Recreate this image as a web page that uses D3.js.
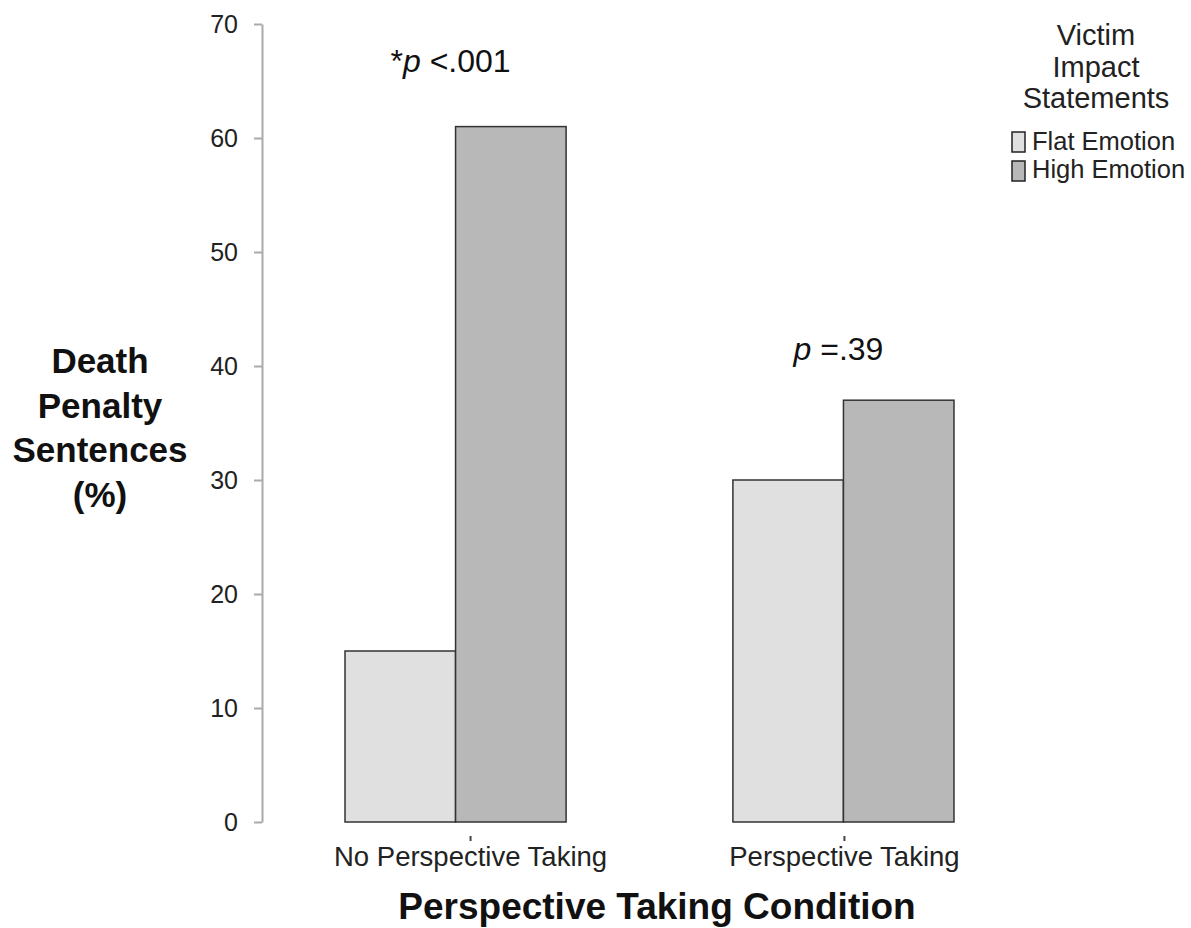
<!DOCTYPE html>
<html><head><meta charset="utf-8">
<script src="https://cdn.jsdelivr.net/npm/d3@7"></script>
<style>body{margin:0;background:#fff}svg{display:block}text{font-family:"Liberation Sans",Arial,sans-serif}</style>
</head><body>
<svg id="c" width="1191" height="928"></svg>
<script>
const categories = ["No Perspective Taking", "Perspective Taking"];
const seriesNames = ["Flat Emotion", "High Emotion"];
const flatEmotion = [15, 30];
const highEmotion = [61, 37];
const yTicks = [0, 10, 20, 30, 40, 50, 60, 70];
const pLabels = [["*", "p", " <.001"], ["", "p", " =.39"]];
const colors = ["#e0e0e0", "#b8b8b8"];

const FONT = '"Liberation Sans",Arial,sans-serif';
const svg = d3.select("#c");
const y = d3.scaleLinear().domain([0, 70]).range([822, 24]);
const x0 = d3.scaleBand().domain(categories).range([262, 1037]).paddingInner(0.43).paddingOuter(0.214);
const x1 = d3.scaleBand().domain(seriesNames).range([0, x0.bandwidth()]);

// y axis
const yAxis = d3.axisLeft(y).tickValues(yTicks).tickSize(8).tickPadding(16).tickSizeOuter(0);
const gy = svg.append("g").attr("transform", "translate(262,0)").call(yAxis);
gy.select(".domain").attr("stroke", "#aaa").attr("stroke-width", 2);
gy.selectAll(".tick line").attr("stroke", "#aaa").attr("stroke-width", 2);
gy.selectAll(".tick text").attr("font-size", 25).attr("fill", "#222").attr("font-family", FONT);

// bars
const data = categories.map((c, i) => ({cat: c, vals: [flatEmotion[i], highEmotion[i]]}));
const g = svg.append("g");
data.forEach(d => {
  d.vals.forEach((v, j) => {
    g.append("rect")
      .attr("x", x0(d.cat) + x1(seriesNames[j]))
      .attr("y", y(v))
      .attr("width", x1.bandwidth())
      .attr("height", y(0) - y(v))
      .attr("fill", colors[j])
      .attr("stroke", "#333")
      .attr("stroke-width", 1.5);
  });
});

// x axis ticks and labels
const labelOffsets = [15, 1];
categories.forEach((c, i) => {
  const cx = x0(c) + x0.bandwidth() / 2 + labelOffsets[i];
  svg.append("line").attr("x1", cx).attr("x2", cx).attr("y1", 836).attr("y2", 841).attr("stroke", "#444").attr("stroke-width", 2);
  svg.append("text").attr("x", cx).attr("y", 866).attr("text-anchor", "middle").attr("font-size", 27.5).attr("fill", "#222").text(c);
});

// p annotations
const pOffsets = [55, 40];
data.forEach((d, i) => {
  const cx = x0(d.cat) + x0.bandwidth() / 2 - 5;
  const maxV = Math.max(...d.vals);
  const t = svg.append("text").attr("x", cx).attr("y", y(maxV) - pOffsets[i]).attr("text-anchor", "middle").attr("font-size", 32).attr("fill", "#111");
  t.append("tspan").text(pLabels[i][0]);
  t.append("tspan").attr("font-style", "italic").text(pLabels[i][1]);
  t.append("tspan").text(pLabels[i][2]);
});

// axis titles
const yTitle = ["Death", "Penalty", "Sentences", "(%)"];
yTitle.forEach((l, i) => {
  svg.append("text").attr("x", 100).attr("y", 373 + i * 44.5).attr("text-anchor", "middle")
    .attr("font-size", 35).attr("font-weight", "bold").attr("fill", "#111").text(l);
});
svg.append("text").attr("x", 657).attr("y", 919).attr("text-anchor", "middle")
  .attr("font-size", 37).attr("font-weight", "bold").attr("fill", "#111").text("Perspective Taking Condition");

// legend
const legTitle = ["Victim", "Impact", "Statements"];
legTitle.forEach((l, i) => {
  svg.append("text").attr("x", 1096).attr("y", 45 + i * 31.5).attr("text-anchor", "middle")
    .attr("font-size", 29).attr("fill", "#222").text(l);
});
seriesNames.forEach((s, i) => {
  svg.append("rect").attr("x", 1012).attr("y", 132 + i * 29).attr("width", 13).attr("height", 20)
    .attr("fill", colors[i]).attr("stroke", "#222").attr("stroke-width", 1.5);
  svg.append("text").attr("x", 1032).attr("y", 150 + i * 28).attr("font-size", 25.5).attr("fill", "#222").text(s);
});
</script>
</body></html>
